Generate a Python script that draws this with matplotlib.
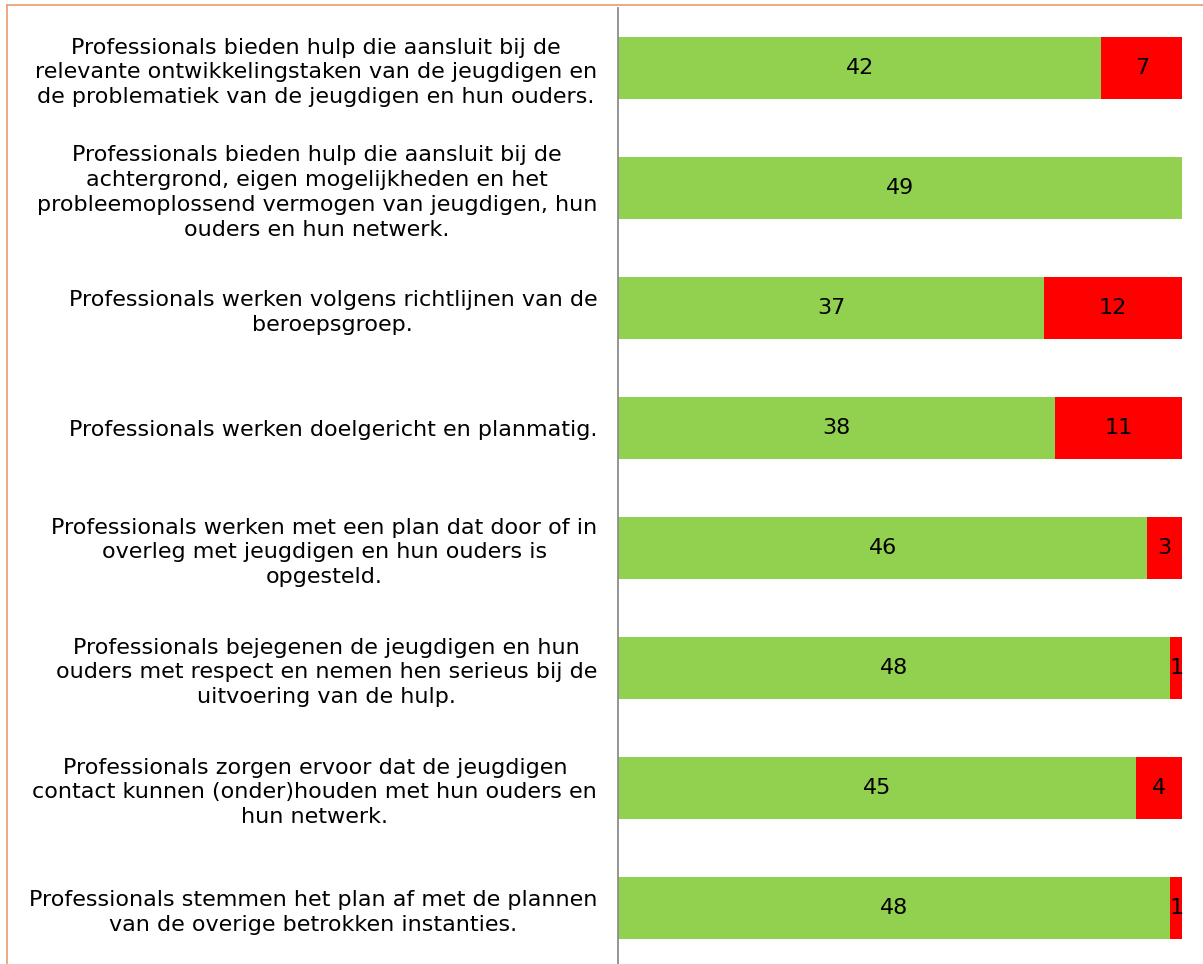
import matplotlib
matplotlib.use("Agg")
import matplotlib.pyplot as plt
from matplotlib.lines import Line2D

categories = [
    "Professionals bieden hulp die aansluit bij de\nrelevante ontwikkelingstaken van de jeugdigen en\nde problematiek van de jeugdigen en hun ouders.",
    "Professionals bieden hulp die aansluit bij de\nachtergrond, eigen mogelijkheden en het\nprobleemoplossend vermogen van jeugdigen, hun\nouders en hun netwerk.",
    "Professionals werken volgens richtlijnen van de\nberoepsgroep.",
    "Professionals werken doelgericht en planmatig.",
    "Professionals werken met een plan dat door of in\noverleg met jeugdigen en hun ouders is\nopgesteld.",
    "Professionals bejegenen de jeugdigen en hun\nouders met respect en nemen hen serieus bij de\nuitvoering van de hulp.",
    "Professionals zorgen ervoor dat de jeugdigen\ncontact kunnen (onder)houden met hun ouders en\nhun netwerk.",
    "Professionals stemmen het plan af met de plannen\nvan de overige betrokken instanties.",
]
green_vals = [42, 49, 37, 38, 46, 48, 45, 48]
red_vals = [7, 0, 12, 11, 3, 1, 4, 1]

W, H = 1203, 964
fig = plt.figure(figsize=(W / 100, H / 100), dpi=100)
fig.patch.set_facecolor("white")

ax = fig.add_axes([618 / W, 1 - 968 / H, (1182 - 618) / W, 960 / H])
ypos = list(range(len(categories)))
bh = 0.52
ax.barh(ypos, green_vals, height=bh, color="#92D050", edgecolor="none")
ax.barh(ypos, red_vals, left=green_vals, height=bh, color="#FF0000", edgecolor="none")

for y, g, r in zip(ypos, green_vals, red_vals):
    if g > 0:
        ax.text(g / 2, y, str(g), ha="center", va="center", fontsize=16, color="black")
    if r > 0:
        ax.text(g + r / 2, y, str(r), ha="center", va="center", fontsize=16, color="black")

ax.set_xlim(0, 49)
ax.set_ylim(len(categories) - 0.5, -0.5)
ax.set_yticks(ypos)
ax.set_yticklabels(categories, fontsize=16, multialignment="center", linespacing=1.3)
ax.tick_params(axis="y", length=0, pad=15)
ax.set_xticks([])
for s in ["top", "right", "bottom"]:
    ax.spines[s].set_visible(False)
ax.spines["left"].set_color("#8C8C8C")
ax.spines["left"].set_linewidth(1.3)

# outer frame (partial)
fig.add_artist(Line2D([7 / W, 1], [1 - 5 / H, 1 - 5 / H], transform=fig.transFigure, color="#EBA277", lw=1.3))
fig.add_artist(Line2D([7 / W, 7 / W], [0, 1 - 5 / H], transform=fig.transFigure, color="#EBA277", lw=1.3))

fig.savefig("out.png", dpi=100, facecolor="white")
